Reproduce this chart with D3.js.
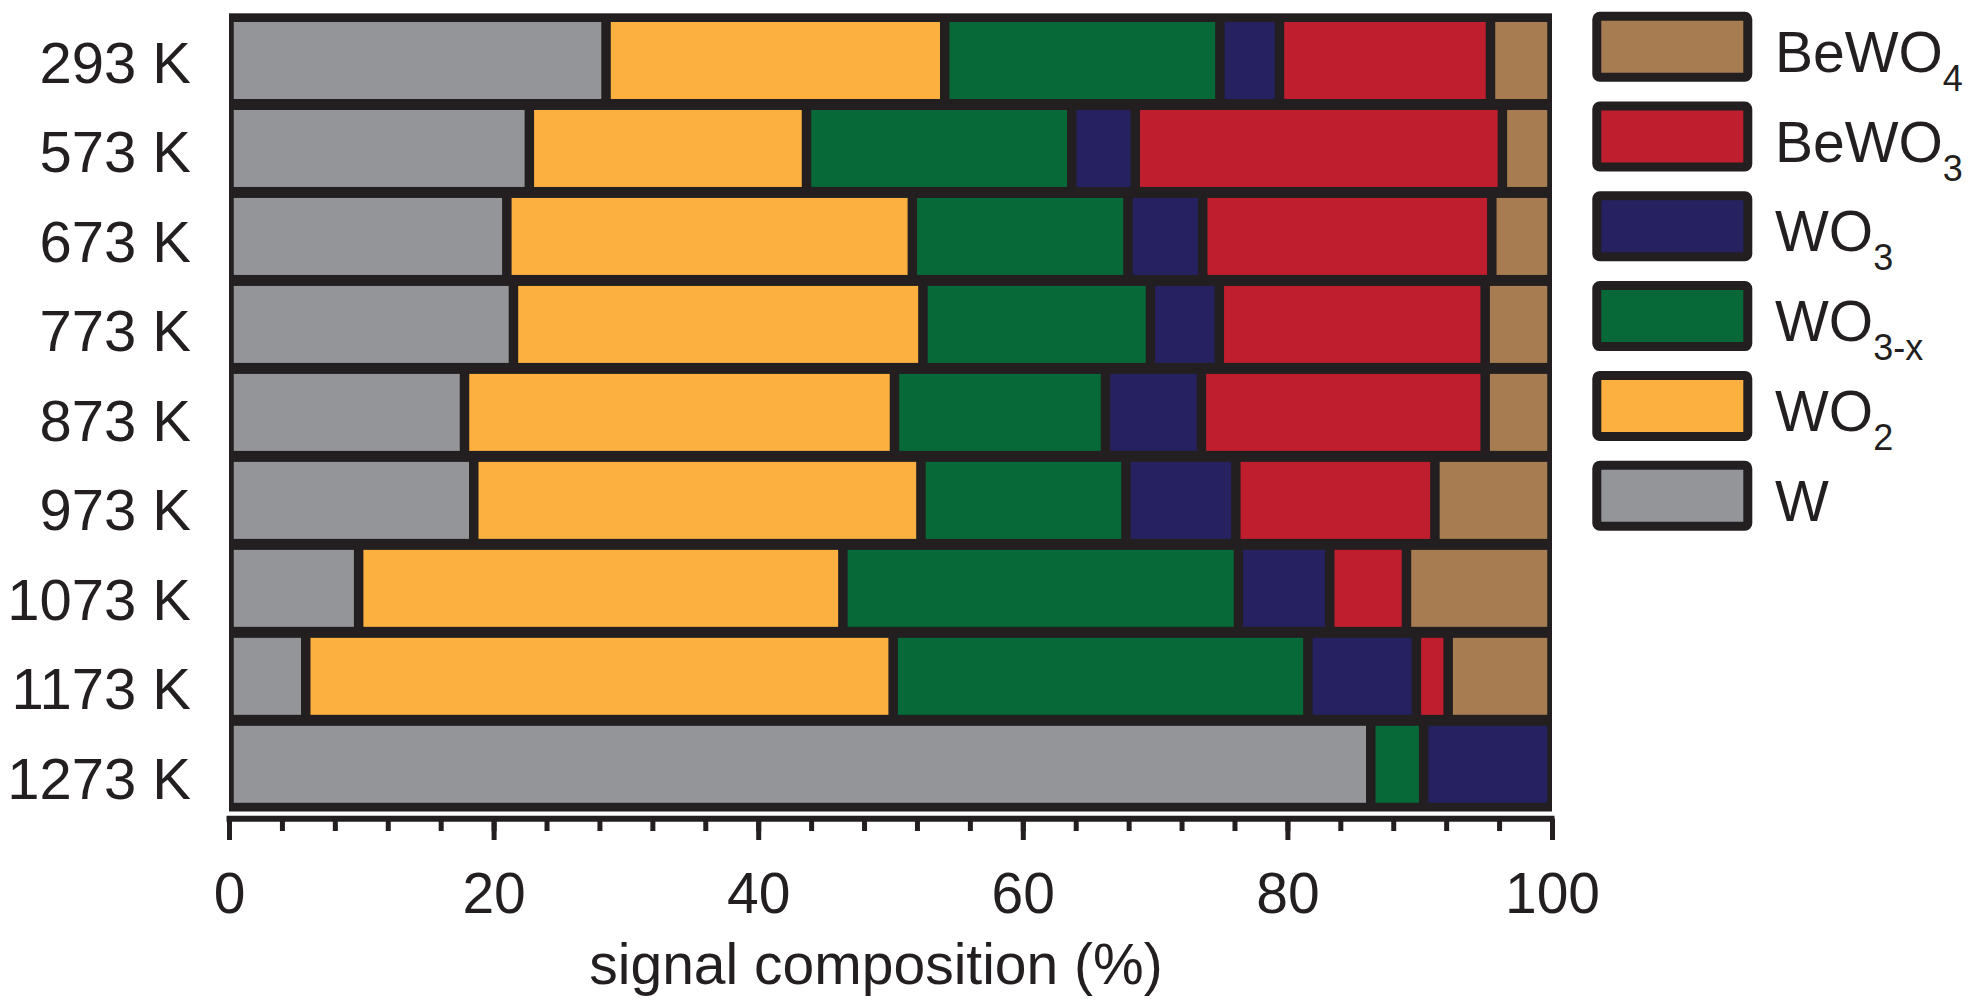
<!DOCTYPE html>
<html>
<head>
<meta charset="utf-8">
<script src="https://cdn.jsdelivr.net/npm/d3@7"></script>
<style>
  html, body { margin: 0; padding: 0; background: #fff; }
  svg { display: block; font-family: "Liberation Sans", Arial, Helvetica, sans-serif; }
</style>
</head>
<body>
<svg id="chart" width="1973" height="1007"></svg>
<script>
// ---- data ----
const categories = ["293 K", "573 K", "673 K", "773 K", "873 K", "973 K", "1073 K", "1173 K", "1273 K"];
const seriesKeys = ["W", "WO2", "WO3-x", "WO3", "BeWO3", "BeWO4"];
const W      = [28.5, 22.7, 21.0, 21.5, 17.8, 18.5,  9.8,  5.8, 86.3];
const WO2    = [25.6, 20.95, 30.65, 30.95, 32.5, 33.8, 36.6, 44.4, 0];
const WO3x   = [20.8, 20.05, 16.3, 17.2, 15.95, 15.5, 29.9, 31.35, 4.0];
const WO3    = [4.5,  4.8,  5.65, 5.2,  7.25, 8.3,  6.9,  8.2,  9.7];
const BeWO3  = [15.95, 27.75, 21.85, 20.1, 21.45, 15.05, 5.8, 2.4, 0];
const BeWO4  = [4.65, 3.75, 4.55, 5.05, 5.05, 8.85, 11.0, 7.85, 0];
const xTicksMajor = [0, 20, 40, 60, 80, 100];
const xTicksMinor = d3.range(0, 101, 4);
const legendOrder = ["BeWO4", "BeWO3", "WO3", "WO3-x", "WO2", "W"];
const legendMain = {"BeWO4": "BeWO", "BeWO3": "BeWO", "WO3": "WO", "WO3-x": "WO", "WO2": "WO", "W": "W"};
const legendSub  = {"BeWO4": "4", "BeWO3": "3", "WO3": "3", "WO3-x": "3-x", "WO2": "2", "W": ""};
const colors = {"W": "#939598", "WO2": "#FBB040", "WO3-x": "#076938", "WO3": "#262262", "BeWO3": "#BE1E2D", "BeWO4": "#A77C50"};
const dark = "#231F20";
const xTitle = "signal composition (%)";

// ---- build table ----
const seriesVals = {"W": W, "WO2": WO2, "WO3-x": WO3x, "WO3": WO3, "BeWO3": BeWO3, "BeWO4": BeWO4};
const table = categories.map((c, i) => {
  const row = {cat: c};
  seriesKeys.forEach(k => row[k] = seriesVals[k][i]);
  return row;
});
const stacked = d3.stack().keys(seriesKeys)(table);

const svg = d3.select("#chart");

const x = d3.scaleLinear().domain([0, 100]).range([229, 1552]);
const y = d3.scaleBand().domain(categories).range([16.5, 808.3]).paddingInner(0.125).paddingOuter(0.0625);
const yLab = d3.scalePoint().domain(categories).range([62, 777.5]);

// frame background (dark)
svg.append("rect")
  .attr("x", x(0)).attr("y", y.range()[0] - 3.2)
  .attr("width", x(100) - x(0)).attr("height", y.range()[1] - y.range()[0] + 6.4)
  .attr("fill", dark);

const inset = 4.75;
svg.append("g").selectAll("g").data(stacked).join("g")
  .attr("fill", d => colors[d.key])
  .selectAll("rect").data(d => d.filter(s => s[1] - s[0] > 0)).join("rect")
  .attr("x", d => x(d[0]) + inset)
  .attr("y", d => y(d.data.cat))
  .attr("width", d => Math.max(0, x(d[1]) - x(d[0]) - 2 * inset))
  .attr("height", y.bandwidth());

// row labels
svg.append("g").selectAll("text").data(categories).join("text")
  .attr("x", 191).attr("y", d => yLab(d) + 21)
  .attr("text-anchor", "end")
  .attr("font-size", 58).attr("fill", dark)
  .text(d => d);

// x axis
const axisY = 818.7;
const gMinor = svg.append("g").attr("transform", `translate(0,${axisY})`)
  .call(d3.axisBottom(x).tickValues(xTicksMinor).tickSize(12.3).tickSizeOuter(0).tickFormat(""));
const gMajor = svg.append("g").attr("transform", `translate(0,${axisY})`)
  .call(d3.axisBottom(x).tickValues(xTicksMajor).tickSize(21.3).tickSizeOuter(0));
[gMinor, gMajor].forEach(g => {
  g.select(".domain").remove();
  g.selectAll(".tick line").attr("stroke", dark).attr("stroke-width", 5);
});
gMajor.selectAll(".tick text")
  .attr("y", 94.6).attr("dy", null)
  .attr("font-size", 57).attr("fill", dark)
  .attr("font-family", "Liberation Sans, Arial, sans-serif");
svg.append("line")
  .attr("x1", x(0) - 2.5).attr("x2", x(100) + 2.5)
  .attr("y1", axisY).attr("y2", axisY)
  .attr("stroke", dark).attr("stroke-width", 6);

svg.append("text")
  .attr("x", 876).attr("y", 984)
  .attr("text-anchor", "middle")
  .attr("font-size", 57).attr("fill", dark)
  .text(xTitle);

// legend
const ly = d3.scalePoint().domain(legendOrder).range([46.7, 46.7 + 5 * 89.8]);
const lg = svg.append("g").selectAll("g").data(legendOrder).join("g")
  .attr("transform", d => `translate(0,${ly(d)})`);
lg.append("rect")
  .attr("x", 1596.8).attr("y", -30.5).attr("width", 151).attr("height", 61)
  .attr("rx", 3)
  .attr("fill", d => colors[d]).attr("stroke", dark).attr("stroke-width", 9);
const lt = lg.append("text")
  .attr("x", 1775).attr("y", 25)
  .attr("font-size", 57).attr("fill", dark);
lt.append("tspan").text(d => legendMain[d]);
lt.append("tspan").attr("font-size", 36).attr("dy", 19).text(d => legendSub[d]);
</script>
</body>
</html>
